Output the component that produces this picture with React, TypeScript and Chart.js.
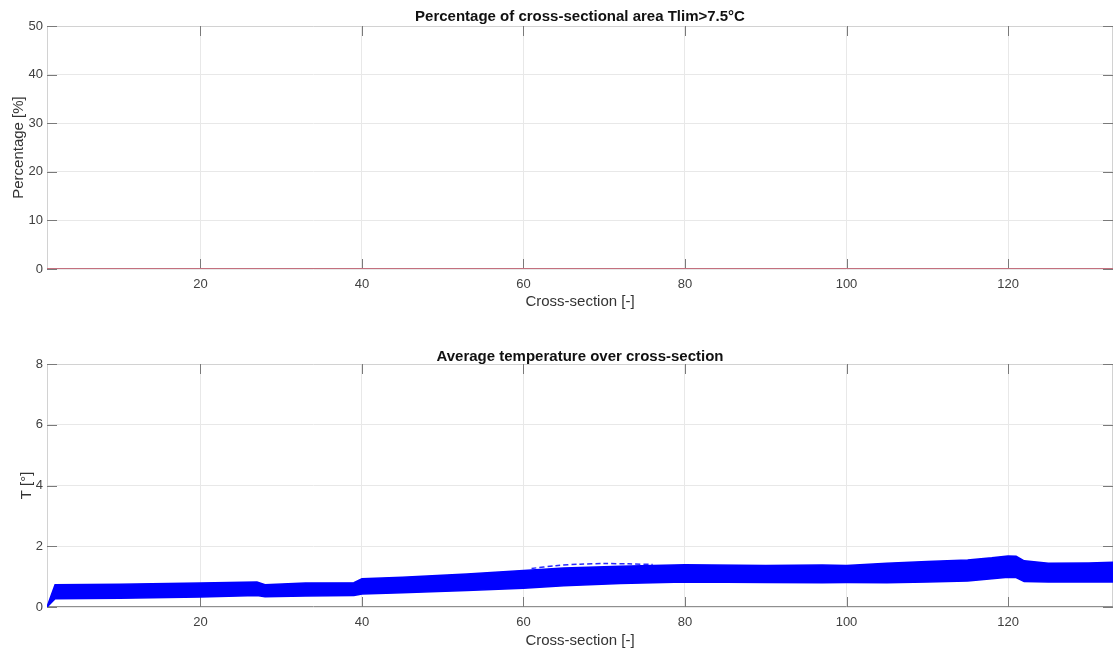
import React, { useEffect, useRef } from "react";
import { Chart, registerables } from "chart.js";

Chart.register(...registerables);

// ---------- data ----------
const X_MIN = 1;
const X_MAX = 133;
const X_TICKS = [20, 40, 60, 80, 100, 120];
const PCT_TICKS = [0, 10, 20, 30, 40, 50];
const T_TICKS = [0, 2, 4, 6, 8];

// Top plot: percentage of cross-sectional area with T > 7.5°C (all zero)
const PCT_X = [1, 20, 40, 60, 80, 100, 120, 133];
const PCT_Y = [0, 0, 0, 0, 0, 0, 0, 0];

// Bottom plot: envelope of the many average-temperature curves
const BAND_X = [1, 2, 10, 20, 27, 28, 33, 39, 40, 45, 53, 60, 65, 72, 80, 90, 97, 100, 105, 110, 115, 118, 120, 121, 122, 125, 130, 133];
const BAND_LOW = [0, 0.27, 0.29, 0.33, 0.38, 0.34, 0.36, 0.38, 0.43, 0.47, 0.54, 0.62, 0.70, 0.77, 0.82, 0.81, 0.80, 0.81, 0.80, 0.82, 0.86, 0.93, 0.98, 0.97, 0.84, 0.82, 0.82, 0.82];
const BAND_HIGH = [0, 0.73, 0.75, 0.79, 0.82, 0.73, 0.79, 0.80, 0.93, 0.98, 1.09, 1.20, 1.28, 1.34, 1.39, 1.37, 1.38, 1.37, 1.44, 1.50, 1.55, 1.62, 1.68, 1.67, 1.52, 1.44, 1.45, 1.47];
// a few curves sticking out above the band (dashed-looking)
const OUTLIER_X = [61, 64, 67, 70, 73, 76];
const OUTLIER_Y = [1.27, 1.36, 1.41, 1.43, 1.42, 1.40];

// ---------- styling ----------
const FONT = "'Liberation Sans', Arial, Helvetica, sans-serif";
const W = 1119;
const H1 = 320;
const H2 = 333;

const framePlugin = {
  id: "matlabFrame",
  beforeDatasetsDraw(chart: any) {
    const { ctx, chartArea: a, scales } = chart;
    const line = (x1: number, y1: number, x2: number, y2: number) => {
      ctx.beginPath();
      ctx.moveTo(x1, y1);
      ctx.lineTo(x2, y2);
      ctx.stroke();
    };
    ctx.save();
    ctx.lineWidth = 1;
    ctx.strokeStyle = "#d2d2d2";
    line(a.left + 0.5, a.bottom, a.left + 0.5, a.top + 0.5);
    line(a.left, a.top + 0.5, a.right, a.top + 0.5);
    line(a.right - 0.5, a.top, a.right - 0.5, a.bottom);
    ctx.strokeStyle = "#8f8f8f";
    line(a.left, a.bottom - 0.5, a.right, a.bottom - 0.5);
    const L = 10;
    ctx.strokeStyle = "#7a7a7a";
    scales.x.ticks.forEach((t: any) => {
      const px = Math.round(scales.x.getPixelForValue(t.value)) + 0.5;
      line(px, a.bottom, px, a.bottom - L);
      line(px, a.top, px, a.top + L);
    });
    scales.y.ticks.forEach((t: any) => {
      const py = Math.round(scales.y.getPixelForValue(t.value)) + 0.5;
      line(a.left, py, a.left + L, py);
      line(a.right, py, a.right - L, py);
    });
    ctx.restore();
  },
  afterDraw(chart: any, _args: any, opts: any) {
    const { ctx, chartArea: a } = chart;
    ctx.save();
    ctx.font = "bold 15px " + FONT;
    ctx.fillStyle = "#111111";
    ctx.textAlign = "center";
    ctx.textBaseline = "middle";
    ctx.fillText(opts.text, (a.left + a.right) / 2, opts.y);
    ctx.restore();
  },
};

function makeOptions(o: {
  title: string;
  titleY: number;
  top: number;
  yTitle: string;
  yTitlePad: number;
  yMax: number;
  yTicks: number[];
  xAxisHeight: number;
  xTitlePadBottom: number;
}) {
  return {
    responsive: false,
    maintainAspectRatio: false,
    animation: false as const,
    layout: { padding: { left: 0, right: 6, top: o.top, bottom: 0 } },
    plugins: {
      legend: { display: false },
      tooltip: { enabled: false },
      title: { display: false },
      matlabFrame: { text: o.title, y: o.titleY },
    },
    scales: {
      x: {
        type: "linear" as const,
        min: X_MIN,
        max: X_MAX,
        afterBuildTicks: (s: any) => {
          s.ticks = X_TICKS.map((v) => ({ value: v }));
        },
        afterFit: (s: any) => {
          s.height = o.xAxisHeight;
        },
        grid: { color: "#e8e8e8", drawTicks: false },
        border: { display: false },
        ticks: {
          padding: 8,
          color: "#404040",
          font: { family: FONT, size: 13 },
          maxRotation: 0,
          autoSkip: false,
          callback: (v: any) => String(v),
        },
        title: {
          display: true,
          text: "Cross-section [-]",
          color: "#333333",
          font: { family: FONT, size: 15 },
          padding: { top: 0, bottom: o.xTitlePadBottom },
        },
      },
      y: {
        type: "linear" as const,
        min: 0,
        max: o.yMax,
        afterBuildTicks: (s: any) => {
          s.ticks = o.yTicks.map((v) => ({ value: v }));
        },
        afterFit: (s: any) => {
          s.width = 47;
        },
        grid: { color: "#e8e8e8", drawTicks: false },
        border: { display: false },
        ticks: {
          padding: 4,
          color: "#404040",
          font: { family: FONT, size: 13 },
          autoSkip: false,
          callback: (v: any) => String(v),
        },
        title: {
          display: true,
          text: o.yTitle,
          color: "#333333",
          font: { family: FONT, size: 15 },
          padding: { top: o.yTitlePad, bottom: 0 },
        },
      },
    },
  };
}

export default function App() {
  const ref1 = useRef<HTMLCanvasElement | null>(null);
  const ref2 = useRef<HTMLCanvasElement | null>(null);

  useEffect(() => {
    const c1 = new Chart(ref1.current as HTMLCanvasElement, {
      type: "line",
      data: {
        datasets: [
          {
            data: PCT_X.map((x, i) => ({ x, y: PCT_Y[i] })),
            borderColor: "#c4707e",
            borderWidth: 2,
            pointRadius: 0,
            fill: false,
            tension: 0,
          },
        ],
      },
      options: makeOptions({
        title: "Percentage of cross-sectional area Tlim>7.5°C",
        titleY: 16.5,
        top: 26,
        yTitle: "Percentage [%]",
        yTitlePad: 10,
        yMax: 50,
        yTicks: PCT_TICKS,
        xAxisHeight: H1 - 269,
        xTitlePadBottom: 9,
      }) as any,
      plugins: [framePlugin],
    });

    const c2 = new Chart(ref2.current as HTMLCanvasElement, {
      type: "line",
      data: {
        datasets: [
          {
            data: BAND_X.map((x, i) => ({ x, y: BAND_LOW[i] })),
            borderColor: "#0000ff",
            borderWidth: 1.5,
            pointRadius: 0,
            fill: false,
            tension: 0,
          },
          {
            data: BAND_X.map((x, i) => ({ x, y: BAND_HIGH[i] })),
            borderColor: "#0000ff",
            backgroundColor: "#0000ff",
            borderWidth: 1.5,
            pointRadius: 0,
            fill: "-1",
            tension: 0,
          },
          {
            data: OUTLIER_X.map((x, i) => ({ x, y: OUTLIER_Y[i] })),
            borderColor: "#2a2aff",
            borderWidth: 1.5,
            borderDash: [5, 3],
            pointRadius: 0,
            fill: false,
            tension: 0.3,
          },
        ],
      },
      options: makeOptions({
        title: "Average temperature over cross-section",
        titleY: 37,
        top: 44,
        yTitle: "T [°]",
        yTitlePad: 18,
        yMax: 8,
        yTicks: T_TICKS,
        xAxisHeight: H2 - (607 - 320),
        xTitlePadBottom: 3,
      }) as any,
      plugins: [framePlugin],
    });

    return () => {
      c1.destroy();
      c2.destroy();
    };
  }, []);

  return (
    <div style={{ position: "fixed", left: 0, top: 0, width: W, height: 653, background: "#ffffff" }}>
      <canvas ref={ref1} width={W} height={H1} style={{ position: "absolute", left: 0, top: 0, width: W, height: H1 }} />
      <canvas ref={ref2} width={W} height={H2} style={{ position: "absolute", left: 0, top: H1, width: W, height: H2 }} />
    </div>
  );
}
